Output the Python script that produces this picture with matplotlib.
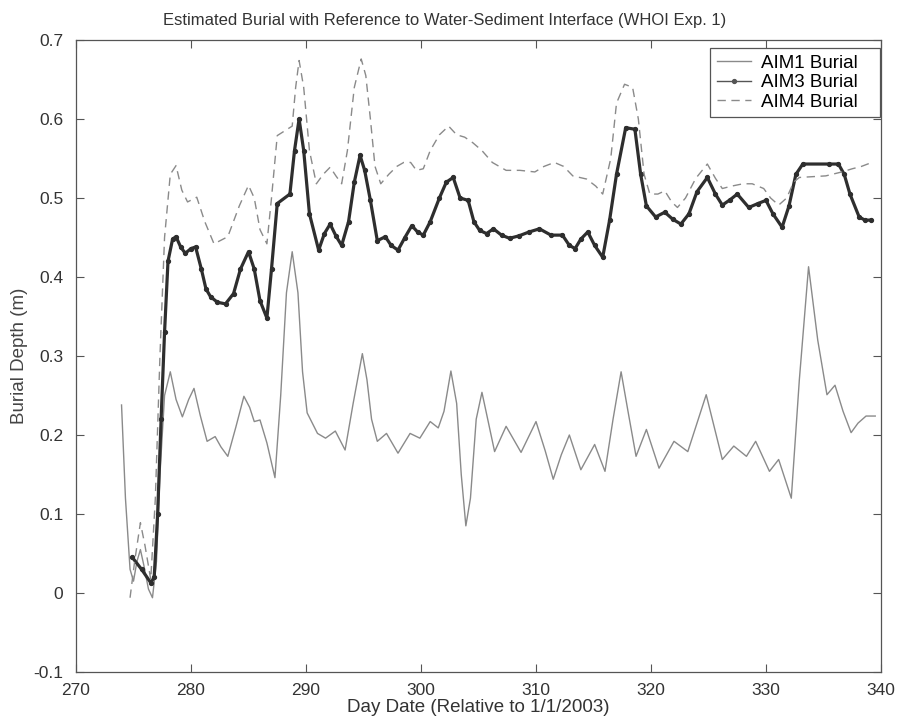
import matplotlib
matplotlib.use("Agg")
import matplotlib.pyplot as plt

# AIM1 burial (thin solid)
aim1_day = [273.96, 274.3, 274.7, 275.0, 275.3, 275.6, 275.9, 276.3, 276.65, 277.0,
            277.3, 277.7, 278.2, 278.7, 279.25, 279.8, 280.26, 280.8, 281.4, 282.1,
            282.6, 283.2, 283.9, 284.6, 285.1, 285.5, 286.0, 286.6, 287.3, 287.8,
            288.3, 288.8, 289.3, 289.7, 290.1, 291.0, 291.7, 292.55, 293.4, 294.1,
            294.9, 295.3, 295.7, 296.2, 297.0, 298.0, 299.05, 299.9, 300.8, 301.5,
            302.0, 302.6, 303.1, 303.5, 303.9, 304.3, 304.8, 305.3, 305.8, 306.4,
            307.4, 308.7, 310.0, 310.8, 311.5, 312.2, 312.9, 313.9, 315.1, 316.0,
            316.7, 317.4, 318.0, 318.7, 319.6, 320.7, 322.0, 323.2, 324.0, 324.8,
            325.5, 326.2, 327.2, 328.3, 329.1, 330.3, 331.1, 332.2, 332.9, 333.7,
            334.5, 335.3, 336.0, 336.7, 337.4, 338.0, 338.7, 339.5]
aim1_depth = [0.238, 0.12, 0.03, 0.015, 0.04, 0.055, 0.035, 0.005, -0.006, 0.04,
              0.15, 0.25, 0.28, 0.245, 0.223, 0.245, 0.259, 0.225, 0.192, 0.198,
              0.185, 0.173, 0.21, 0.249, 0.235, 0.217, 0.219, 0.19, 0.146, 0.25,
              0.38, 0.432, 0.38, 0.28, 0.228, 0.202, 0.196, 0.205, 0.181, 0.24,
              0.303, 0.27, 0.22, 0.192, 0.202, 0.177, 0.202, 0.196, 0.217, 0.209,
              0.23, 0.281, 0.24, 0.15, 0.085, 0.12, 0.22, 0.254, 0.22, 0.179,
              0.211, 0.178, 0.217, 0.18, 0.144, 0.175, 0.2, 0.156, 0.188, 0.154,
              0.22, 0.28, 0.23, 0.173, 0.207, 0.158, 0.192, 0.179, 0.215, 0.251,
              0.21, 0.169, 0.186, 0.173, 0.192, 0.154, 0.169, 0.12, 0.27, 0.413,
              0.32, 0.251, 0.263, 0.23, 0.203, 0.215, 0.224, 0.224]

# AIM3 burial (thick, dot markers)
aim3_day = [274.9, 275.7, 276.5, 276.8, 277.1, 277.4, 277.7, 278.0, 278.4, 278.7,
            279.1, 279.5, 280.0, 280.4, 280.9, 281.3, 281.7, 282.3, 283.0, 283.7,
            284.3, 285.0, 285.5, 286.0, 286.6, 287.0, 287.5, 288.6, 289.0, 289.4,
            289.8, 290.3, 291.1, 291.6, 292.1, 292.6, 293.1, 293.7, 294.2, 294.7,
            295.1, 295.6, 296.2, 296.9, 297.4, 298.0, 298.6, 299.2, 299.7, 300.2,
            300.8, 301.6, 302.2, 302.8, 303.4, 304.1, 304.6, 305.1, 305.7, 306.3,
            307.0, 307.7, 308.5, 309.4, 310.3, 311.3, 312.3, 312.9, 313.4, 313.9,
            314.5, 315.1, 315.8, 316.4, 317.0, 317.8, 318.6, 319.1, 319.6, 320.4,
            321.2, 321.9, 322.6, 323.3, 324.0, 324.9, 325.6, 326.2, 326.9, 327.5,
            328.5, 329.3, 330.0, 330.6, 331.4, 332.0, 332.6, 333.2, 335.5, 336.3,
            336.8, 337.3, 338.1, 338.6, 339.1]
aim3_depth = [0.045, 0.03, 0.013, 0.02, 0.1, 0.22, 0.33, 0.42, 0.448, 0.451,
              0.438, 0.43, 0.436, 0.438, 0.41, 0.385, 0.375, 0.368, 0.366, 0.379,
              0.41, 0.432, 0.41, 0.37, 0.348, 0.41, 0.493, 0.505, 0.56, 0.6,
              0.56, 0.48, 0.434, 0.455, 0.467, 0.452, 0.44, 0.47, 0.52, 0.554,
              0.535, 0.497, 0.446, 0.451, 0.44, 0.434, 0.45, 0.465, 0.457, 0.453,
              0.47, 0.5, 0.52, 0.526, 0.5, 0.497, 0.47, 0.459, 0.455, 0.461,
              0.453, 0.449, 0.452, 0.457, 0.461, 0.453, 0.453, 0.44, 0.436, 0.448,
              0.457, 0.44, 0.425, 0.472, 0.53, 0.589, 0.587, 0.53, 0.49, 0.476,
              0.482, 0.473, 0.467, 0.48, 0.508, 0.526, 0.505, 0.491, 0.498, 0.505,
              0.488, 0.493, 0.497, 0.48, 0.463, 0.49, 0.53, 0.543, 0.543, 0.543,
              0.53, 0.505, 0.476, 0.472, 0.472]

# AIM4 burial (dashed)
aim4_day = [274.7, 275.1, 275.6, 276.0, 276.5, 276.9, 277.3, 277.7, 278.2, 278.7,
            279.2, 279.7, 280.5, 281.2, 282.0, 283.2, 284.2, 285.0, 285.5, 286.0,
            286.6, 287.0, 287.5, 288.8, 289.1, 289.4, 289.8, 290.3, 290.9, 291.5,
            292.1, 292.6, 293.1, 293.6, 294.2, 294.8, 295.2, 295.6, 296.0, 296.5,
            297.2, 297.9, 298.5, 299.1, 299.6, 300.2, 300.8, 301.6, 302.4, 303.1,
            303.8, 304.5, 305.3, 306.2, 307.4, 308.6, 309.9, 310.7, 311.6, 312.4,
            313.2, 314.4, 315.2, 315.8, 316.5, 317.0, 317.7, 318.4, 318.9, 319.4,
            319.9, 320.6, 321.2, 321.8, 322.3, 323.0, 323.9, 324.9, 325.6, 326.2,
            327.0, 328.0, 328.8, 329.8, 330.4, 331.1, 331.8, 332.4, 332.9, 335.2,
            336.6, 337.5, 338.3, 339.2]
aim4_depth = [-0.006, 0.04, 0.089, 0.06, 0.017, 0.12, 0.3, 0.45, 0.53, 0.541,
              0.51, 0.495, 0.501, 0.47, 0.442, 0.451, 0.49, 0.516, 0.5, 0.46,
              0.442, 0.5, 0.579, 0.591, 0.64, 0.674, 0.64, 0.56, 0.518, 0.53,
              0.539, 0.528, 0.518, 0.56, 0.64, 0.676, 0.655, 0.6, 0.54, 0.518,
              0.53, 0.54, 0.545, 0.545, 0.535, 0.537, 0.56, 0.58, 0.591, 0.58,
              0.577, 0.57, 0.56, 0.545, 0.535, 0.535, 0.533, 0.54, 0.545, 0.54,
              0.528, 0.524, 0.515, 0.505, 0.55, 0.62, 0.644, 0.64, 0.6, 0.53,
              0.505, 0.505, 0.509, 0.495, 0.488, 0.5, 0.525, 0.543, 0.525, 0.512,
              0.515, 0.518, 0.518, 0.512, 0.5, 0.491, 0.5, 0.52, 0.526, 0.528,
              0.533, 0.537, 0.54, 0.545]

plt.rcParams["font.family"] = ["Liberation Sans", "DejaVu Sans"]
plt.rcParams["font.size"] = 12

fig = plt.figure(figsize=(8.98, 7.25), dpi=100)
ax = fig.add_axes([76 / 898, 1 - 672 / 725, (881 - 76) / 898, (672 - 40) / 725])

ax.plot(aim1_day, aim1_depth, color="#8a8a8a", lw=1.0, label="AIM1 Burial")
ax.plot(aim3_day, aim3_depth, color="#2e2e2e", lw=2.3, marker="o", markersize=2.8,
        label="AIM3 Burial")
ax.plot(aim4_day, aim4_depth, color="#8a8a8a", lw=1.0, linestyle=(0, (6, 4)),
        label="AIM4 Burial")

ax.set_xlim(270, 340)
ax.set_ylim(-0.1, 0.7)
ax.set_xticks(range(270, 341, 10))
ax.set_yticks([-0.1, 0, 0.1, 0.2, 0.3, 0.4, 0.5, 0.6, 0.7])
ax.set_yticklabels(["-0.1", "0", "0.1", "0.2", "0.3", "0.4", "0.5", "0.6", "0.7"])
ax.tick_params(direction="in", top=True, right=True, length=6, color="#555555",
               labelcolor="#333333", labelsize=12.5)
ax.tick_params(axis="x", pad=8)
ax.tick_params(axis="y", pad=9)
for s in ax.spines.values():
    s.set_color("#555555")
    s.set_linewidth(0.9)

ax.set_xlabel("Day Date (Relative to 1/1/2003)", color="#333333", fontsize=13.5, labelpad=1)
ax.set_ylabel("Burial Depth (m)", color="#444444", fontsize=13.5, labelpad=4)
fig.text(445 / 898, 1 - 21 / 725, "Estimated Burial with Reference to Water-Sediment Interface (WHOI Exp. 1)",
         ha="center", va="center", color="#333333", fontsize=12)

leg = ax.legend(loc="upper right", bbox_to_anchor=(0.9988, 0.987), fancybox=False,
                framealpha=1, borderpad=0.35, handlelength=1.8, handletextpad=0.55,
                labelspacing=0.12, borderaxespad=0, fontsize=13.5)
leg.get_frame().set_edgecolor("#555555")
leg.get_frame().set_linewidth(0.9)
# widen the box on the right like the original legend
for t in leg.get_texts():
    t.set_text(t.get_text() + "   ")
# in the original legend the AIM3 entry is a thin line with one dot
leg.get_lines()[1].set_linewidth(1.0)
leg.get_lines()[1].set_color("#555555")

fig.savefig("out.png", dpi=100)
